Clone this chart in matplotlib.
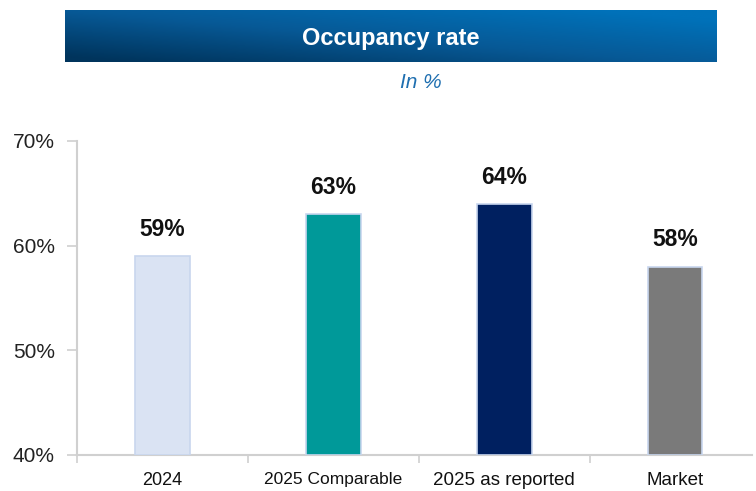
import numpy as np
import matplotlib

matplotlib.use("Agg")
import matplotlib.pyplot as plt
from matplotlib.colors import LinearSegmentedColormap

categories = ["2024", "2025 Comparable", "2025 as reported", "Market"]
occupancy = [59, 63, 64, 58]
bar_colors = ["#dae3f3", "#009999", "#002060", "#7a7a7a"]
y_ticks = [40, 50, 60, 70]
title = "Occupancy rate"
subtitle = "In %"

FONT = ["Liberation Sans", "DejaVu Sans"]

fig = plt.figure(figsize=(7.56, 4.91), dpi=100)

# gradient title banner
banner = fig.add_axes([65 / 756, 1 - 62 / 491, 652 / 756, 52 / 491])
gx, gy = np.meshgrid(np.linspace(0, 1, 300), np.linspace(0, 1, 40))
grad = np.clip(0.6 * gx + 0.55 * (1 - gy) - 0.05, 0, 1)
cmap = LinearSegmentedColormap.from_list("banner", ["#00345c", "#075996", "#0072ba"])
banner.imshow(grad, cmap=cmap, aspect="auto", extent=[0, 1, 0, 1], origin="upper")
banner.set_axis_off()
banner.text(0.5, 0.46, title, color="white", fontsize=17, fontweight="bold",
            ha="center", va="center", transform=banner.transAxes, family=FONT)

fig.text(421 / 756, 1 - 82 / 491, subtitle, color="#1f6fb0", fontsize=15,
         style="italic", ha="center", va="center", family=FONT)

ax = fig.add_axes([77 / 756, 36 / 491, 675 / 756, 314 / 491])
x = np.arange(len(categories))
bars = ax.bar(x, [v - y_ticks[0] for v in occupancy], bottom=y_ticks[0], width=0.32,
              color=bar_colors, edgecolor="#c8d6ee", linewidth=1.2, zorder=3)

for xi, v in zip(x, occupancy):
    ax.annotate(f"{v}%", (xi, v), xytext=(0, 11), textcoords="offset points",
                ha="center", va="bottom", fontsize=16.5, fontweight="bold",
                color="#111111", family=FONT)

ax.set_xlim(-0.5, 3.45)
ax.set_ylim(y_ticks[0], y_ticks[-1])
ax.set_yticks(y_ticks)
ax.set_yticklabels([f"{t}%" for t in y_ticks], fontsize=15, color="#222222", family=FONT)
ax.set_xticks(x)
ax.set_xticklabels(categories, color="#111111", family=FONT)
label_sizes = [13, 12.5, 13.5, 13.5]
for lbl, size in zip(ax.get_xticklabels(), label_sizes):
    lbl.set_fontsize(size)
ax.set_xticks(np.arange(-0.5, 3.5, 1.0), minor=True)
ax.tick_params(axis="x", which="major", length=0, pad=12)
ax.tick_params(axis="x", which="minor", length=6, color="#d0d0d0", width=1.2)
ax.tick_params(axis="y", length=7, color="#d0d0d0", width=1.2, pad=9)

for side in ["top", "right"]:
    ax.spines[side].set_visible(False)
for side in ["left", "bottom"]:
    ax.spines[side].set_color("#d0d0d0")
    ax.spines[side].set_linewidth(1.5)

fig.savefig("out.png", dpi=100)
